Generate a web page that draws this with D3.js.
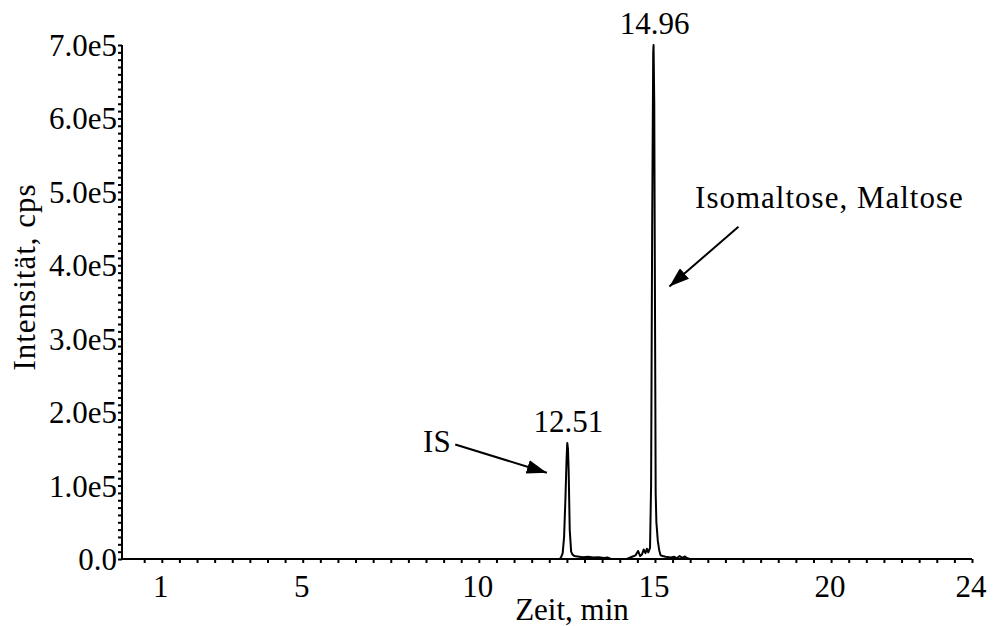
<!DOCTYPE html>
<html>
<head>
<meta charset="utf-8">
<script src="https://cdn.jsdelivr.net/npm/d3@7"></script>
<style>
  body { margin: 0; background: #fff; }
  text { font-family: "Liberation Serif", "Times New Roman", serif; fill: #000; }
</style>
</head>
<body>
<svg id="chart"></svg>
<script>
// chromatogram trace (time in min, intensity in cps)
var times = [0, 12.30, 12.34, 12.38, 12.42, 12.46, 12.49, 12.51, 12.53, 12.55, 12.58, 12.62, 12.66,
  12.72, 12.80, 12.95, 13.10, 13.25, 13.40, 13.55, 13.65, 13.75, 14.20, 14.35, 14.45, 14.52,
  14.58, 14.63, 14.68, 14.73, 14.77, 14.81, 14.86, 14.89, 14.92, 14.95, 14.96, 14.98, 15.00,
  15.02, 15.04, 15.08, 15.12, 15.16, 15.22, 15.30, 15.45, 15.55, 15.62, 15.70, 15.78, 15.85,
  15.92, 16.00, 24];
var intensity = [0, 0, 3000, 8000, 30000, 85000, 135000, 158000, 150000, 120000, 40000, 10000, 6000,
  4000, 3500, 2500, 3000, 2000, 2500, 1500, 2000, 0, 0, 3000, 5000, 11000,
  4000, 6000, 13000, 8000, 14000, 9000, 15000, 100000, 450000, 690000, 700000, 620000, 350000,
  90000, 50000, 25000, 12000, 5000, 4000, 3000, 2000, 3000, 1000, 4000, 1500, 3500,
  1000, 0, 0];

var xTickLabels = [1, 5, 10, 15, 20, 24];
var yTickLabels = [0, 1e5, 2e5, 3e5, 4e5, 5e5, 6e5, 7e5];

var peakLabels = [
  { t: 12.51, v: 158000, text: "12.51" },
  { t: 14.96, v: 700000, text: "14.96" }
];

var annotations = [
  { text: "IS", tx: 9.2, ty: 146000, anchor: "end", x1: 9.33, y1: 156000, x2: 11.93, y2: 117500 },
  { text: "Isomaltose, Maltose", tx: 16.14, ty: 478000, anchor: "start", x1: 17.37, y1: 452500, x2: 15.41, y2: 371000 }
];

var width = 993, height = 626;
var svg = d3.select("#chart").attr("width", width).attr("height", height);

var xScale = d3.scaleLinear().domain([-0.13, 24]).range([122, 972]);
var yScale = d3.scaleLinear().domain([0, 700000]).range([559, 45]);

var fontSize = "31px";

// minor ticks
var xTicks = d3.range(0.5, 24.01, 0.5);
var yTicks = d3.range(0, 700001, 10000);

var xAxis = d3.axisBottom(xScale).tickValues(xTicks).tickSize(4).tickFormat("");
var yAxis = d3.axisLeft(yScale).tickValues(yTicks).tickSize(4).tickFormat("");

var gx = svg.append("g").attr("transform", "translate(0," + yScale(0) + ")").call(xAxis);
gx.select(".domain").remove();
gx.selectAll(".tick line").attr("stroke", "#000").attr("stroke-width", 2);

var gy = svg.append("g").attr("transform", "translate(" + xScale(-0.13) + ",0)").call(yAxis);
gy.select(".domain").remove();
gy.selectAll(".tick line").attr("stroke", "#000").attr("stroke-width", 2);

// axis lines
svg.append("line")
  .attr("x1", xScale(-0.13)).attr("x2", xScale(24))
  .attr("y1", yScale(0)).attr("y2", yScale(0))
  .attr("stroke", "#000").attr("stroke-width", 2);
svg.append("line")
  .attr("x1", xScale(-0.13)).attr("x2", xScale(-0.13))
  .attr("y1", yScale(0) + 1).attr("y2", yScale(700000))
  .attr("stroke", "#000").attr("stroke-width", 2);

// tick labels
svg.selectAll(".xlab")
  .data(xTickLabels)
  .enter()
  .append("text")
  .attr("class", "xlab")
  .attr("x", function (d) { return xScale(d) - 1; })
  .attr("y", yScale(0) + 38)
  .attr("text-anchor", "middle")
  .style("font-size", fontSize)
  .text(function (d) { return d; });

svg.selectAll(".ylab")
  .data(yTickLabels)
  .enter()
  .append("text")
  .attr("class", "ylab")
  .attr("x", xScale(-0.13) - 5)
  .attr("y", function (d) { return yScale(d) + 11; })
  .attr("text-anchor", "end")
  .style("font-size", fontSize)
  .text(function (d) { return d === 0 ? "0.0" : (d / 1e5).toFixed(1) + "e5"; });

// axis titles
svg.append("text")
  .attr("x", 572)
  .attr("y", 620)
  .attr("text-anchor", "middle")
  .style("font-size", fontSize)
  .text("Zeit, min");

svg.append("text")
  .attr("transform", "translate(35,277)rotate(-90)")
  .attr("text-anchor", "middle")
  .style("font-size", fontSize)
  .style("letter-spacing", "1px")
  .text("Intensität, cps");

// trace
var trace = times.map(function (t, i) { return [t, intensity[i]]; });
var line = d3.line()
  .x(function (d) { return xScale(d[0]); })
  .y(function (d) { return yScale(d[1]); });

svg.append("path")
  .datum(trace)
  .attr("d", line)
  .attr("fill", "none")
  .attr("stroke", "#000")
  .attr("stroke-width", 2)
  .attr("stroke-linejoin", "round");

// peak labels
svg.selectAll(".plab")
  .data(peakLabels)
  .enter()
  .append("text")
  .attr("class", "plab")
  .attr("x", function (d) { return xScale(d.t) + 1; })
  .attr("y", function (d) { return yScale(d.v) - 11; })
  .attr("text-anchor", "middle")
  .style("font-size", fontSize)
  .text(function (d) { return d.text; });

// arrows
svg.append("defs").append("marker")
  .attr("id", "arrow")
  .attr("viewBox", "0 0 20 14")
  .attr("refX", 20)
  .attr("refY", 7)
  .attr("markerWidth", 20)
  .attr("markerHeight", 14)
  .attr("markerUnits", "userSpaceOnUse")
  .attr("orient", "auto")
  .append("path")
  .attr("d", "M0,0L20,7L0,14Z")
  .attr("fill", "#000");

annotations.forEach(function (a) {
  svg.append("line")
    .attr("x1", xScale(a.x1)).attr("y1", yScale(a.y1))
    .attr("x2", xScale(a.x2)).attr("y2", yScale(a.y2))
    .attr("stroke", "#000")
    .attr("stroke-width", 2)
    .attr("marker-end", "url(#arrow)");
  svg.append("text")
    .attr("x", xScale(a.tx))
    .attr("y", yScale(a.ty))
    .attr("text-anchor", a.anchor)
    .style("font-size", fontSize)
    .style("letter-spacing", a.anchor === "start" ? "1px" : "0px")
    .text(a.text);
});
</script>
</body>
</html>
